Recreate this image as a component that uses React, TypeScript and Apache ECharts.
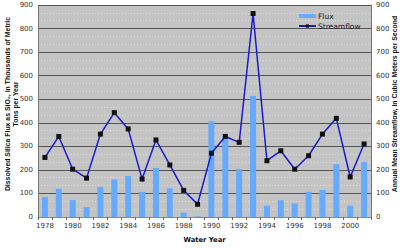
import React, { useEffect, useRef } from "react";
import * as echarts from "echarts";

const years = ["1978","1979","1980","1981","1982","1983","1984","1985","1986","1987","1988","1989","1990","1991","1992","1993","1994","1995","1996","1997","1998","1999","2000","2001"];
const flux = [85,120,72,42,128,159,174,107,208,122,19,3,406,343,203,514,48,71,58,107,115,224,48,233];
const streamflow = [253,342,203,165,352,443,374,161,327,221,113,54,271,342,317,864,239,281,203,260,352,419,170,310];
const axisTicks = [0,100,200,300,400,500,600,700,800,900];

const FONT = "DejaVu Sans";
const TITLE_FONT = "Liberation Sans";

export default function App() {
  const ref = useRef<HTMLDivElement>(null);
  useEffect(() => {
    if (!ref.current) return;
    const chart = echarts.init(ref.current, undefined, { renderer: "svg" });
    const yAxisCommon = {
      type: "value" as const,
      min: axisTicks[0],
      max: axisTicks[axisTicks.length - 1],
      interval: 100,
      axisLine: { show: true, lineStyle: { color: "#777", width: 1 } },
      axisTick: { show: false },
      axisLabel: { fontFamily: FONT, fontSize: 7, color: "#333", margin: 5 },
    };
    chart.setOption({
      animation: false,
      backgroundColor: "#ffffff",
      grid: {
        left: 38, right: 29, top: 5, bottom: 26,
        show: true, backgroundColor: "#c4c4c4", borderWidth: 0,
      },
      legend: {
        orient: "vertical",
        left: 293, top: 7,
        itemGap: 2,
        itemWidth: 17, itemHeight: 4,
        textStyle: { fontFamily: FONT, fontSize: 7.5, color: "#222", padding: [0, 0, 0, -3] },
        data: [
          { name: "Flux", icon: "rect" },
          { name: "Streamflow" },
        ],
      },
      xAxis: {
        type: "category",
        data: years,
        boundaryGap: true,
        axisLine: { show: true, lineStyle: { color: "#888" } },
        axisTick: { show: true, interval: 0, length: 3, lineStyle: { color: "#666" } },
        axisLabel: { interval: 1, fontFamily: FONT, fontSize: 7, color: "#333", margin: 5 },
        name: "Water Year",
        nameLocation: "middle",
        nameGap: 19,
        nameTextStyle: { fontFamily: FONT, fontSize: 6.8, fontWeight: "bold", color: "#111" },
      },
      yAxis: [
        {
          ...yAxisCommon,
          position: "left",
          splitLine: { show: true, lineStyle: { color: "#555", width: 1 } },
          minorTick: { show: false, splitNumber: 3 },
          minorSplitLine: { show: true, lineStyle: { color: "#e0e0e0", type: [1, 2], width: 1 } },
        },
        {
          ...yAxisCommon,
          position: "right",
          splitLine: { show: false },
          axisLabel: { fontFamily: FONT, fontSize: 7, color: "#333", margin: 5 },
        },
      ],
      graphic: [
        {
          type: "text",
          x: 11, y: 104, rotation: Math.PI / 2,
          style: {
            text: "Dissolved Silica Flux as SiO\u2082, in Thousands of Metric\nTons per Year",
            fontFamily: TITLE_FONT, fontSize: 6.9, fontWeight: "bold", fill: "#111",
            align: "center", verticalAlign: "middle", lineHeight: 8,
          },
        },
        {
          type: "text",
          x: 394, y: 104, rotation: Math.PI / 2,
          style: {
            text: "Annual Mean Streamflow, in Cubic Meters per Second",
            fontFamily: TITLE_FONT, fontSize: 6.9, fontWeight: "bold", fill: "#111",
            align: "center", verticalAlign: "middle",
          },
        },
      ],
      series: [
        {
          name: "Flux",
          type: "bar",
          yAxisIndex: 0,
          data: flux,
          barWidth: 6,
          itemStyle: { color: "#66aaff" },
        },
        {
          name: "Streamflow",
          type: "line",
          yAxisIndex: 1,
          data: streamflow,
          symbol: "rect",
          symbolSize: 5,
          lineStyle: { color: "#1a1acc", width: 1.5 },
          itemStyle: { color: "#111111" },
        },
      ],
    });
    return () => chart.dispose();
  }, []);
  return <div ref={ref} style={{ width: 400, height: 248, position: "absolute", left: 0, top: 0 }} />;
}
